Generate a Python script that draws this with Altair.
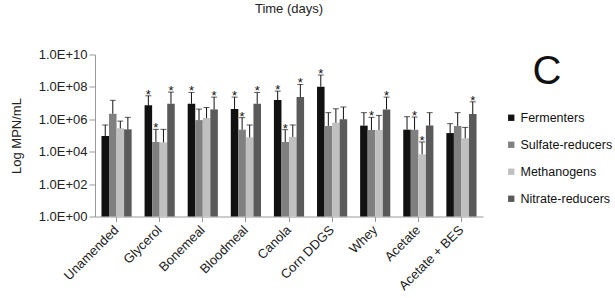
import altair as alt
import pandas as pd

categories = ["Unamended", "Glycerol", "Bonemeal", "Bloodmeal", "Canola",
              "Corn DDGS", "Whey", "Acetate", "Acetate + BES"]
series = ["Fermenters", "Sulfate-reducers", "Methanogens", "Nitrate-reducers"]
colors = ["#111111", "#808080", "#c0c0c0", "#5a5a5a"]
y_ticks = [0, 2, 4, 6, 8, 10]

# log10(MPN/mL)
fermenters = [4.97, 6.86, 6.96, 6.63, 7.19, 8.01, 5.61, 5.36, 5.15]
sulfate = [6.34, 4.60, 5.95, 5.36, 4.60, 5.59, 5.34, 5.36, 5.59]
methanogens = [5.44, 4.58, 6.08, 4.89, 4.91, 5.79, 5.34, 3.84, 4.83]
nitrate = [5.38, 6.96, 6.61, 6.96, 7.37, 6.00, 6.61, 5.61, 6.32]

# upper end of error bars (log10)
fermenters_err = [5.65, 7.45, 7.66, 7.37, 7.74, 8.73, 6.41, 6.16, 5.73]
sulfate_err = [7.17, 5.38, 6.63, 6.10, 5.36, 6.41, 6.12, 6.14, 6.41]
methanogens_err = [5.89, 5.38, 6.73, 5.65, 5.65, 6.65, 6.24, 4.60, 5.50]
nitrate_err = [6.12, 7.68, 7.37, 7.66, 8.15, 6.76, 7.37, 6.41, 7.08]

# significance stars
fermenters_sig = [0, 1, 1, 1, 1, 1, 0, 0, 0]
sulfate_sig = [0, 1, 0, 1, 1, 0, 1, 1, 0]
methanogens_sig = [0, 0, 0, 0, 0, 0, 0, 1, 0]
nitrate_sig = [0, 1, 1, 1, 1, 0, 1, 0, 1]

rows = []
for s, vals, errs, sigs in zip(
        series,
        [fermenters, sulfate, methanogens, nitrate],
        [fermenters_err, sulfate_err, methanogens_err, nitrate_err],
        [fermenters_sig, sulfate_sig, methanogens_sig, nitrate_sig]):
    for c, v, e, g in zip(categories, vals, errs, sigs):
        rows.append({"cat": c, "series": s, "val": v, "err": e,
                     "star": "*" if g else ""})
df = pd.DataFrame(rows)

FONT = "Liberation Sans"
yscale = alt.Scale(domain=[0, 10], nice=False, zero=True)

x_enc = alt.X("cat:N", sort=categories,
              scale=alt.Scale(paddingInner=0.3, paddingOuter=0.15),
              axis=alt.Axis(title=None, labelAngle=-45, labelAlign="right",
                            labelBaseline="middle", labelFontSize=13,
                            labelPadding=6, tickSize=5, labelColor="#222",
                            domainColor="#999", tickColor="#999"))
xo = alt.XOffset("series:N", sort=series)
y_axis = alt.Axis(title="Log MPN/mL", values=y_ticks,
                  labelExpr="'1.0E+' + (datum.value < 10 ? '0' : '') + datum.value",
                  labelOverlap=False, labelFlush=False,
                  labelFontSize=13, titleFontSize=13, titleFontWeight="normal",
                  labelColor="#222", titleColor="#222", titlePadding=15,
                  tickSize=6, grid=False, domainColor="#999", tickColor="#999")

base = alt.Chart(df)

bars = base.mark_bar().encode(
    x=x_enc, xOffset=xo, y=alt.Y("val:Q", scale=yscale, axis=y_axis),
    color=alt.Color("series:N", sort=series,
                    scale=alt.Scale(domain=series, range=colors),
                    legend=alt.Legend(title=None, orient="none", legendX=410, legendY=57,
                                      symbolType="square", symbolSize=40,
                                      symbolStrokeWidth=0, labelFontSize=12.5,
                                      labelColor="#111", rowPadding=14, labelOffset=3))
)

rules = base.mark_rule(color="#111", strokeWidth=1).encode(
    x=x_enc, xOffset=xo, y=alt.Y("val:Q", scale=yscale, axis=y_axis), y2="err:Q")

caps = base.mark_tick(color="#111", thickness=1, size=6).encode(
    x=x_enc, xOffset=xo, y=alt.Y("err:Q", scale=yscale, axis=y_axis))

stars = base.transform_filter(alt.datum.star != "").mark_text(
    fontSize=13, baseline="alphabetic", dy=3, color="#111", font=FONT).encode(
    x=x_enc, xOffset=xo, y=alt.Y("err:Q", scale=yscale, axis=y_axis), text="star:N")

letter = alt.Chart(pd.DataFrame({"t": ["C"]})).mark_text(
    fontSize=40, font=FONT, align="center", baseline="alphabetic", color="#111").encode(
    x=alt.value(452), y=alt.value(29), text="t:N")

chart = alt.layer(bars, rules, caps, stars, letter).properties(
    width=388, height=162,
    title=alt.TitleParams("Time (days)", fontSize=13, fontWeight="normal",
                          font=FONT, color="#222", anchor="middle", offset=33),
    autosize=alt.AutoSizeParams(type="none"),
    padding={"left": 95, "top": 54.5, "right": 132, "bottom": 81},
).configure(font=FONT).configure_view(stroke=None).configure_axisY(labelOverlap=False)

chart.save("out.html", embed_options={"renderer": "svg", "actions": False})
